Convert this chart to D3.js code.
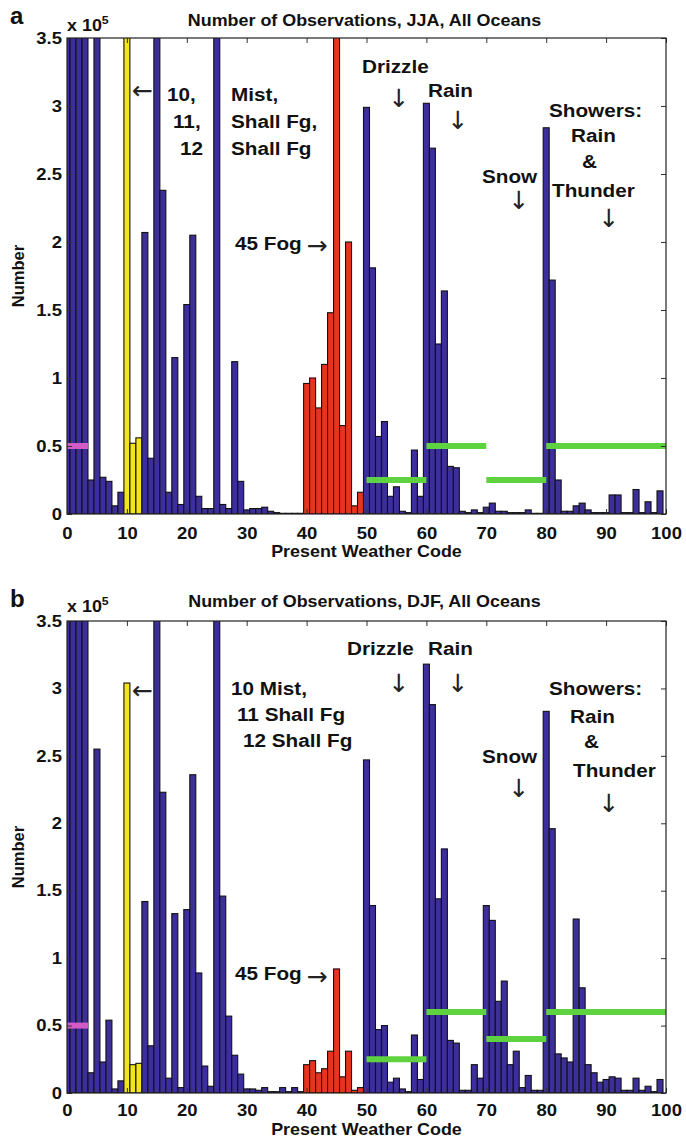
<!DOCTYPE html>
<html>
<head>
<meta charset="utf-8">
<script src="https://cdn.jsdelivr.net/npm/d3@7"></script>
<style>
  body { margin: 0; background: #fff; }
  svg text { font-family: "Liberation Sans", Arial, sans-serif; font-weight: bold; fill: #111; }
  .tick line { stroke: #333; }
</style>
</head>
<body>
<div id="viz"></div>
<script>
const WIDTH = 686;
const HEIGHT = 1139;
const PLOT = { left: 67, right: 666 };
const STRETCH = 1.12; // the source figure is a bit wider than it is tall

// weather codes 0..99, counts in units of 1e5
const codes = d3.range(0, 100);
const xTicks = [0, 10, 20, 30, 40, 50, 60, 70, 80, 90, 100];
const yTicks = [0, 0.5, 1, 1.5, 2, 2.5, 3, 3.5];
const yTickLabels = ['0', '0.5', '1', '1.5', '2', '2.5', '3', '3.5'];

const mistCodes = [10, 11, 12];
const fogCodes = [40, 41, 42, 43, 44, 45, 46, 47, 48, 49];

const jjaCounts = [
  5.6, 4.9, 4.2, 3.9, 0.25, 4.1, 0.27, 0.24, 0.06, 0.16,
  5.0, 0.52, 0.56, 2.07, 0.41, 4.4, 2.38, 0.16, 1.15, 0.07,
  1.54, 2.05, 0.13, 0.04, 0.04, 4.6, 0.07, 0.04, 1.12, 0.24,
  0.03, 0.04, 0.04, 0.05, 0.02, 0.01, 0.005, 0.005, 0.005, 0.005,
  0.96, 1.0, 0.78, 1.10, 1.48, 3.9, 0.65, 2.0, 0.06, 0.16,
  2.99, 1.81, 0.57, 0.68, 0.13, 0.2, 0.02, 0.01, 0.47, 0.13,
  3.02, 2.69, 1.25, 1.64, 0.35, 0.34, 0.02, 0.01, 0.03, 0.01,
  0.05, 0.08, 0.02, 0.02, 0.01, 0.01, 0.01, 0.03, 0.005, 0.005,
  2.84, 1.72, 0.25, 0.02, 0.02, 0.06, 0.08, 0.03, 0.01, 0.01,
  0.01, 0.14, 0.14, 0.01, 0.01, 0.18, 0.01, 0.09, 0.01, 0.17
];

const djfCounts = [
  5.0, 4.5, 4.0, 3.8, 0.15, 2.55, 0.23, 0.54, 0.03, 0.09,
  3.04, 0.21, 0.22, 1.42, 0.35, 4.0, 2.23, 0.11, 1.33, 0.04,
  1.36, 2.36, 0.89, 0.2, 0.05, 4.2, 1.46, 0.57, 0.28, 0.14,
  0.03, 0.03, 0.02, 0.04, 0.01, 0.01, 0.04, 0.01, 0.04, 0.01,
  0.21, 0.24, 0.15, 0.18, 0.31, 0.92, 0.12, 0.31, 0.02, 0.04,
  2.47, 1.39, 0.47, 0.50, 0.08, 0.11, 0.03, 0.01, 0.43, 0.1,
  3.18, 2.88, 1.44, 1.81, 0.39, 0.37, 0.02, 0.02, 0.21, 0.11,
  1.39, 1.28, 0.68, 0.83, 0.21, 0.31, 0.04, 0.13, 0.02, 0.02,
  2.83, 1.96, 0.29, 0.26, 0.23, 1.29, 0.78, 0.21, 0.15, 0.08,
  0.1, 0.12, 0.11, 0.02, 0.02, 0.11, 0.02, 0.05, 0.01, 0.1
];

// [from code, to code, level]
const clearLimits = [[0, 3.5, 0.5]];
const jjaPrecipLimits = [[50, 60, 0.25], [60, 70, 0.5], [70, 80, 0.25], [80, 100, 0.5]];
const djfPrecipLimits = [[50, 60, 0.25], [60, 70, 0.6], [70, 80, 0.4], [80, 100, 0.6]];

const COLORS = {
  bar: '#3c2f9c', mist: '#f3e41c', fog: '#e8331e',
  precip: '#5fd23f', clear: '#d35bc6', edge: '#111'
};

// annotation layout, pixels from the plot's top-left corner
const JJA_NOTES = [
  ['←', 75.5, 52, true], ['10,', 100, 63], ['11,', 106, 90], ['12', 113, 117],
  ['Mist,', 164, 63], ['Shall Fg,', 164, 90], ['Shall Fg', 164, 117],
  ['45 Fog', 168, 212], ['→', 250, 207, true],
  ['Drizzle', 295, 35], ['↓', 332, 60, true],
  ['Rain', 361, 59], ['↓', 391, 82, true],
  ['Snow', 415, 145], ['↓', 452, 162, true],
  ['Showers:', 482, 79], ['Rain', 504, 104], ['&', 515, 130],
  ['Thunder', 485, 159], ['↓', 542, 180, true]
];
const DJF_NOTES = [
  ['←', 75.5, 69, true],
  ['10 Mist,', 164, 74], ['11 Shall Fg', 170, 100], ['12 Shall Fg', 176, 126],
  ['45 Fog', 168, 359], ['→', 250, 355, true],
  ['Drizzle', 280, 34], ['↓', 332, 62, true],
  ['Rain', 361, 34], ['↓', 391, 62, true],
  ['Snow', 415, 142], ['↓', 452, 167, true],
  ['Showers:', 482, 74], ['Rain', 503, 102], ['&', 517, 127],
  ['Thunder', 506, 156], ['↓', 542, 182, true]
];

class WeatherPanel {
  constructor(svg, {
    id, letter, title, counts, limits, top, bottom, notes, titleY, labelY, tickPad
  }) {
    this.svg = svg;
    this.id = id;
    this.letter = letter;
    this.title = title;
    this.counts = counts;
    this.limits = limits;
    this.notes = notes;
    this.titleY = titleY;
    this.labelY = labelY;
    this.tickPad = tickPad;
    this.width = PLOT.right - PLOT.left;
    this.height = bottom - top;
    this.g = svg.append('g')
      .attr('transform', `translate(${PLOT.left}, ${top})`);
    this.render();
  }

  barColor(code) {
    if (mistCodes.includes(code)) return COLORS.mist;
    if (fogCodes.includes(code)) return COLORS.fog;
    return COLORS.bar;
  }

  render() {
    const { g, width, height } = this;
    const x = d3.scaleLinear().domain([0, 100]).range([0, width]);
    const y = d3.scaleLinear().domain([0, 3.5]).range([height, 0]);

    g.append('clipPath')
      .attr('id', `inner-${this.id}`)
      .append('rect')
      .attr('width', width)
      .attr('height', height);

    // bars
    g.append('g')
      .attr('clip-path', `url(#inner-${this.id})`)
      .selectAll('rect')
      .data(codes)
      .join('rect')
      .attr('x', d => x(d - 0.5))
      .attr('width', x(1) - x(0))
      .attr('y', d => y(this.counts[d]))
      .attr('height', d => height - y(this.counts[d]))
      .attr('fill', d => this.barColor(d))
      .attr('stroke', COLORS.edge)
      .attr('stroke-width', 1.1);

    // threshold segments
    const seg = (data, color) => g.append('g')
      .selectAll('line')
      .data(data)
      .join('line')
      .attr('x1', d => x(d[0]))
      .attr('x2', d => x(d[1]))
      .attr('y1', d => y(d[2]))
      .attr('y2', d => y(d[2]))
      .attr('stroke', color)
      .attr('stroke-width', 6);
    seg(clearLimits, COLORS.clear);
    seg(this.limits, COLORS.precip);

    // axes, ticks pointing inwards on all four sides
    const xAxis = g.append('g')
      .attr('transform', `translate(0, ${height})`)
      .call(d3.axisBottom(x).tickValues(xTicks).tickSizeInner(-5).tickSizeOuter(0).tickPadding(this.tickPad));
    const yAxis = g.append('g')
      .call(d3.axisLeft(y).tickValues(yTicks).tickSizeInner(-5).tickSizeOuter(0).tickPadding(4.5)
        .tickFormat((d, i) => yTickLabels[i]));
    g.append('g')
      .call(d3.axisTop(x).tickValues(xTicks).tickSizeInner(-5).tickSizeOuter(0).tickFormat(() => ''));
    g.append('g')
      .attr('transform', `translate(${width}, 0)`)
      .call(d3.axisRight(y).tickValues(yTicks).tickSizeInner(-5).tickSizeOuter(0).tickFormat(() => ''));

    g.selectAll('.domain').remove();
    [xAxis, yAxis].forEach(a => a.selectAll('text')
      .attr('font-size', 16.5)
      .attr('font-family', '"Liberation Sans", Arial, sans-serif')
      .attr('font-weight', 'bold')
      .attr('fill', '#111')
      .attr('transform', `scale(${STRETCH}, 1)`));

    g.append('rect')
      .attr('width', width)
      .attr('height', height)
      .attr('fill', 'none')
      .attr('stroke', '#222')
      .attr('stroke-width', 1.2);

    // titles and labels
    const stretched = (str, px, py, size, anchor = 'start') => g.append('text')
      .attr('transform', `translate(${px}, ${py}) scale(${STRETCH}, 1)`)
      .attr('text-anchor', anchor)
      .attr('font-size', size)
      .text(str);

    stretched(this.title, width / 2 - 2, this.titleY, 16, 'middle');
    stretched('Present Weather Code', width / 2, height + this.labelY, 16, 'middle');

    g.append('text')
      .attr('x', 10 - PLOT.left)
      .attr('y', -14)
      .attr('font-size', 24)
      .text(this.letter);

    const mult = stretched('x 10', 0, this.titleY + 5, 16);
    mult.append('tspan')
      .attr('dy', -7)
      .attr('font-size', 11)
      .text('5');

    g.append('text')
      .attr('transform', `translate(${24 - PLOT.left}, ${height / 2}) rotate(-90)`)
      .attr('text-anchor', 'middle')
      .attr('font-size', 16.5)
      .text('Number');

    // annotations
    this.notes.forEach(([str, px, py, arrow]) => {
      if (arrow) {
        g.append('text')
          .attr('x', px)
          .attr('y', py)
          .attr('text-anchor', 'middle')
          .attr('dominant-baseline', 'central')
          .attr('font-size', 25)
          .style('font-weight', 'normal')
          .style('font-family', '"DejaVu Sans", sans-serif')
          .style('fill', '#222')
          .text(str);
      } else {
        stretched(str, px, py, 18.5);
      }
    });
  }
}

const svg = d3.select('#viz')
  .append('svg')
  .attr('width', WIDTH)
  .attr('height', HEIGHT);

new WeatherPanel(svg, {
  id: 'jja',
  letter: 'a',
  title: 'Number of Observations, JJA, All Oceans',
  counts: jjaCounts,
  limits: jjaPrecipLimits,
  top: 38,
  bottom: 514,
  notes: JJA_NOTES,
  titleY: -12,
  labelY: 43,
  tickPad: 13.6
});

new WeatherPanel(svg, {
  id: 'djf',
  letter: 'b',
  title: 'Number of Observations, DJF, All Oceans',
  counts: djfCounts,
  limits: djfPrecipLimits,
  top: 621,
  bottom: 1093,
  notes: DJF_NOTES,
  titleY: -14,
  labelY: 41.5,
  tickPad: 11.5
});
</script>
</body>
</html>
